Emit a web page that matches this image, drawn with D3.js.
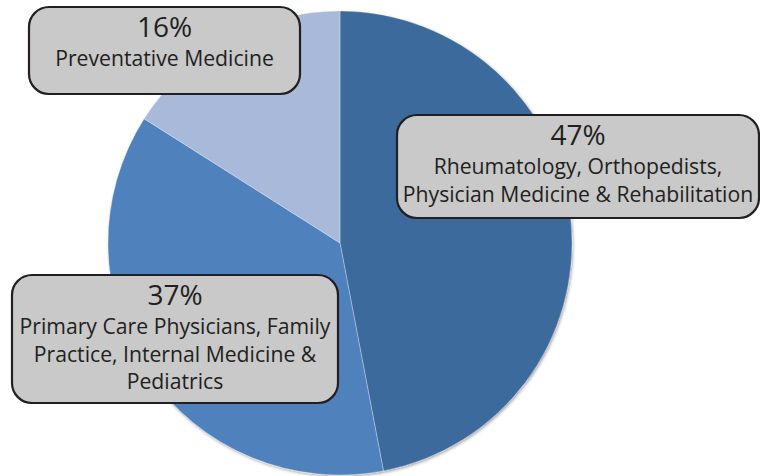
<!DOCTYPE html>
<html>
<head>
<meta charset="utf-8">
<script src="https://cdn.jsdelivr.net/npm/d3@7"></script>
<style>
  html, body { margin: 0; padding: 0; background: #fff; }
  svg { display: block; }
  .label text { font-family: "Open Sans", sans-serif; fill: #231f20; }
</style>
</head>
<body>
<div id="container"></div>
<script>
const width = 760;
const height = 476;

// data, clockwise from 12 o'clock
const categories = [
  'Rheumatology, Orthopedists, Physician Medicine & Rehabilitation',
  'Primary Care Physicians, Family Practice, Internal Medicine & Pediatrics',
  'Preventative Medicine',
];
const shares = [47, 37, 16];
const labelLines = [
  ['Rheumatology, Orthopedists,', 'Physician Medicine & Rehabilitation'],
  ['Primary Care Physicians, Family', 'Practice, Internal Medicine &', 'Pediatrics'],
  ['Preventative Medicine'],
];

// callout boxes: x, y, w, h
const boxes = [
  { x: 397, y: 115, w: 362, h: 103 },
  { x: 12, y: 275, w: 326, h: 128 },
  { x: 29, y: 7, w: 271, h: 87 },
];

const cx = 340;
const cy = 243;
const radius = 232;

const color = d3
  .scaleOrdinal()
  .domain(categories)
  .range(['#3e6a9d', '#4f81bd', '#a9b9d9']);

const svg = d3
  .select('#container')
  .append('svg')
  .attr('width', width)
  .attr('height', height);

const defs = svg.append('defs');
const shadow = defs.append('filter').attr('id', 'shadow')
  .attr('x', '-10%').attr('y', '-10%').attr('width', '120%').attr('height', '120%');
shadow.append('feDropShadow')
  .attr('dx', 1).attr('dy', 1.5).attr('stdDeviation', 1.5)
  .attr('flood-color', '#000').attr('flood-opacity', 0.35);

const pie = d3.pie().sort(null).value(d => d.value);
const arc = d3.arc().innerRadius(0).outerRadius(radius);

const slices = pie(categories.map((c, i) => ({ name: c, value: shares[i] })));

const pieG = svg
  .append('g')
  .attr('transform', 'translate(' + cx + ',' + cy + ')')
  .attr('filter', 'url(#shadow)');

pieG
  .selectAll('path')
  .data(slices)
  .enter()
  .append('path')
  .attr('d', arc)
  .attr('fill', d => color(d.data.name))
  .attr('stroke', 'rgba(255,255,255,0.3)')
  .attr('stroke-width', 1);

// callouts
const labels = svg
  .selectAll('g.label')
  .data(slices)
  .enter()
  .append('g')
  .attr('class', 'label')
  .attr('transform', (d, i) => 'translate(' + boxes[i].x + ',' + boxes[i].y + ')');

labels
  .append('rect')
  .attr('width', (d, i) => boxes[i].w)
  .attr('height', (d, i) => boxes[i].h)
  .attr('rx', 20)
  .attr('ry', 20)
  .attr('fill', '#c8c9c8')
  .attr('stroke', '#231f20')
  .attr('stroke-width', 2.2);

labels
  .append('text')
  .attr('x', (d, i) => boxes[i].w / 2)
  .attr('y', 30)
  .attr('text-anchor', 'middle')
  .style('font-size', '28px')
  .text(d => d.data.value + '%');

labels.each(function (d, i) {
  const g = d3.select(this);
  labelLines[i].forEach((line, j) => {
    g.append('text')
      .attr('x', boxes[i].w / 2)
      .attr('y', 59 + j * 27.5)
      .attr('text-anchor', 'middle')
      .style('font-size', '21.2px')
      .text(line);
  });
});
</script>
</body>
</html>
